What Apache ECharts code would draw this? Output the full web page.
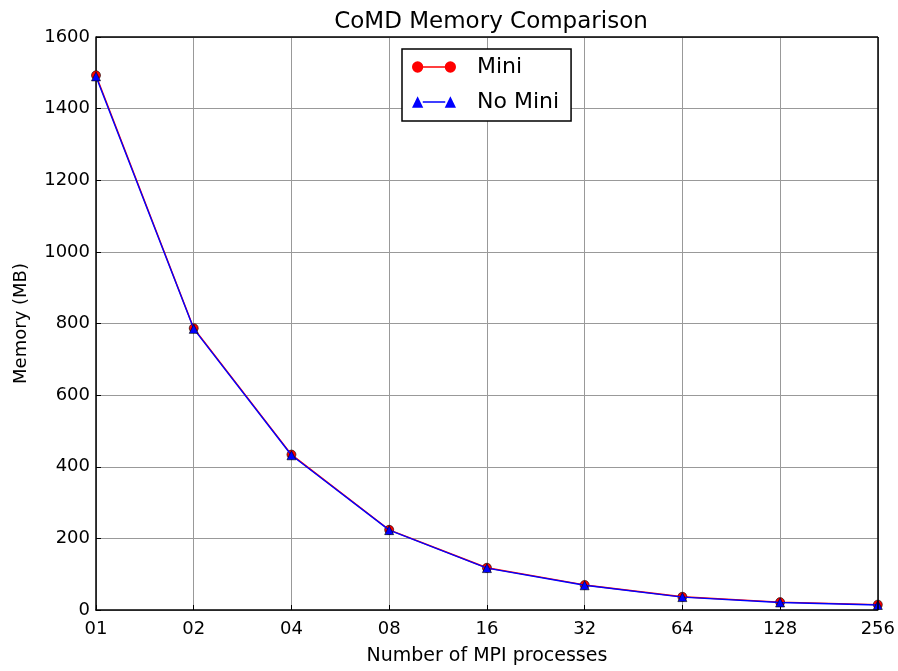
<!DOCTYPE html>
<html><head><meta charset="utf-8">
<script src="https://cdn.jsdelivr.net/npm/echarts@6/dist/echarts.min.js"></script>
<style>html,body{margin:0;padding:0;background:#fff}#c{width:898px;height:671px}</style>
</head><body><div id="c"></div>
<script>
const categories = ['01','02','04','08','16','32','64','128','256'];
const miniValues = [1493, 787, 434, 224, 118, 70, 37, 22, 15];
const noMiniValues = [1490, 785, 432, 223, 117, 69, 36, 21, 14];
const yTicks = [0, 200, 400, 600, 800, 1000, 1200, 1400, 1600];

const font = 'DejaVu Sans';
const circleIcon = 'path://M0.5,6A5.5,5.5,0,1,1,11.5,6A5.5,5.5,0,1,1,0.5,6Z M11,5.3L33,5.3L33,6.7L11,6.7Z M32.5,6A5.5,5.5,0,1,1,43.5,6A5.5,5.5,0,1,1,32.5,6Z';
const triIcon = 'path://M0.5,11.5L6,0.5L11.5,11.5Z M11,5.3L33,5.3L33,6.7L11,6.7Z M32.5,11.5L38,0.5L43.5,11.5Z';
const chart = echarts.init(document.getElementById('c'));
chart.setOption({
  animation: false,
  backgroundColor: '#fff',
  title: {
    text: 'CoMD Memory Comparison', left: 486, top: 6, textAlign: 'center',
    textStyle: {fontFamily: font, fontSize: 23, fontWeight: 'normal', color: '#000'}
  },
  legend: {
    left: 402, top: 49,
    orient: 'vertical',
    padding: [6, 12, 7, 10],
    itemGap: 11,
    itemWidth: 44, itemHeight: 12,
    borderColor: '#000', borderWidth: 1.5, borderRadius: 0,
    backgroundColor: '#fff',
    textStyle: {fontFamily: font, fontSize: 22, lineHeight: 24, color: '#000', padding: [0, 0, 0, 16]},
    data: [
      {name: 'Mini', icon: circleIcon, itemStyle: {color: '#ff0000', borderWidth: 0}},
      {name: 'No Mini', icon: triIcon, itemStyle: {color: '#0000ff', borderWidth: 0}}
    ]
  },
  grid: {left: 96, right: 20, top: 37, bottom: 61},
  xAxis: {
    type: 'category', data: categories, boundaryGap: false,
    name: 'Number of MPI processes', nameLocation: 'middle', nameGap: 37,
    nameTextStyle: {fontFamily: font, fontSize: 19, color: '#000'},
    axisLine: {show: true, lineStyle: {color: '#000', width: 1.5}},
    axisTick: {show: true, inside: true, length: 5, lineStyle: {color: '#000'}},
    axisLabel: {fontFamily: font, fontSize: 18, color: '#000', margin: 10},
    splitLine: {show: true, lineStyle: {color: '#999', width: 1}}
  },
  yAxis: {
    type: 'value', min: 0, max: 1600, interval: 200,
    name: 'Memory (MB)', nameLocation: 'middle', nameGap: 66,
    nameTextStyle: {fontFamily: font, fontSize: 18, color: '#000'},
    axisLine: {show: true, lineStyle: {color: '#000', width: 1.5}},
    axisTick: {show: true, inside: true, length: 5, lineStyle: {color: '#000'}},
    axisLabel: {fontFamily: font, fontSize: 18, color: '#000', margin: 6,
      formatter: v => yTicks.includes(v) ? String(v) : ''},
    splitLine: {show: true, lineStyle: {color: '#999', width: 1}}
  },
  series: [
    {
      name: 'Mini', type: 'line', data: miniValues,
      symbol: 'circle', symbolSize: 9, showAllSymbol: true,
      lineStyle: {color: '#ff0000', width: 1.4},
      itemStyle: {color: '#ff0000', borderColor: '#000', borderWidth: 0.6},
      z: 2
    },
    {
      name: 'No Mini', type: 'line', data: noMiniValues,
      symbol: 'triangle', symbolSize: 9, showAllSymbol: true,
      lineStyle: {color: '#0000ff', width: 1.4},
      itemStyle: {color: '#0000ff', borderColor: '#000', borderWidth: 0.6},
      z: 3
    }
  ],
  graphic: [
    {type: 'line', shape: {x1: 96, y1: 37, x2: 878, y2: 37}, style: {stroke: '#000', lineWidth: 1.5}, z: 10},
    {type: 'line', shape: {x1: 878, y1: 37, x2: 878, y2: 610}, style: {stroke: '#000', lineWidth: 1.5}, z: 10}
  ]
});
</script></body></html>
